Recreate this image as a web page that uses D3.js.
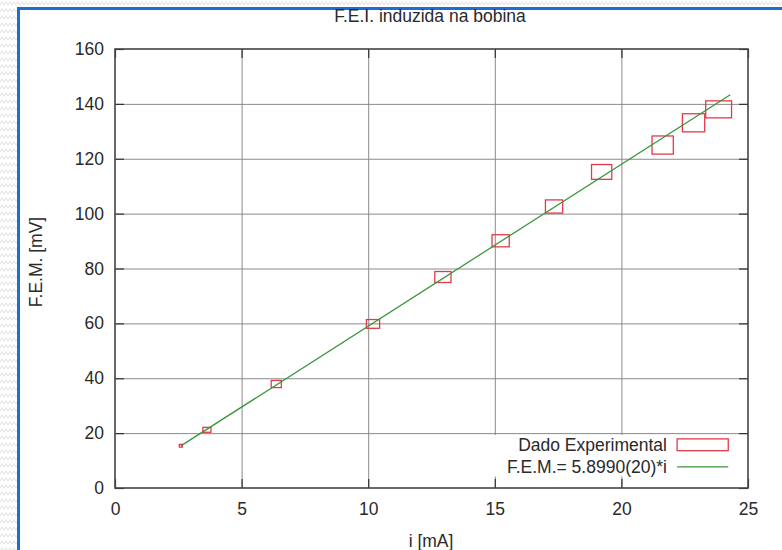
<!DOCTYPE html>
<html>
<head>
<meta charset="utf-8">
<script src="https://cdn.jsdelivr.net/npm/d3@7"></script>
<style>
  body { margin: 0; background: #fff; }
  text { font-family: "Liberation Sans", Arial, sans-serif; fill: #2a2a2a; }
</style>
</head>
<body>
<div id="chart"></div>
<script>
// measured points: current i [mA], emf [mV] and their uncertainties
const current    = [2.60, 3.63, 6.37, 10.19, 12.95, 15.23, 17.34, 19.22, 21.63, 22.85, 23.84];
const emf        = [15.4, 21.2, 37.9, 59.8, 76.9, 90.1, 102.6, 115.2, 125.0, 133.1, 138.0];
const currentErr = [0.06, 0.16, 0.20, 0.26, 0.32, 0.34, 0.34, 0.40, 0.42, 0.44, 0.51];
const emfErr     = [0.5, 0.9, 1.3, 1.6, 2.0, 2.2, 2.4, 2.7, 3.3, 3.3, 3.1];

// fitted line F.E.M. = slope * i
const slope = 5.899;
const fitRange = [2.6, 24.3];

const xTicks = [0, 5, 10, 15, 20, 25];
const yTicks = [0, 20, 40, 60, 80, 100, 120, 140, 160];

const title = "F.E.I. induzida na bobina";
const xLabel = "i [mA]";
const yLabel = "F.E.M. [mV]";
const legendLabels = ["Dado Experimental", "F.E.M.= 5.8990(20)*i"];

var W = 782, H = 550;
var margin = {top: 49, right: 34, bottom: 62, left: 115},
    width = W - margin.left - margin.right,
    height = H - margin.top - margin.bottom;

var fs = 17.5;
var red = "#e23a4a", green = "#3a953a";

var root = d3.select("#chart").append("svg")
    .attr("width", W).attr("height", H);

// zigzag background outside the frame
var pat = root.append("defs").append("pattern")
    .attr("id", "zig").attr("patternUnits", "userSpaceOnUse")
    .attr("width", 8).attr("height", 7);
pat.append("polyline")
    .attr("points", "0,5 2,2 4,5 6,2 8,5")
    .attr("fill", "none").attr("stroke", "#e6e6e6").attr("stroke-width", 1.2);

root.append("rect").attr("width", W).attr("height", H).attr("fill", "url(#zig)");
root.append("rect")
    .attr("x", 18.5).attr("y", 8.5).attr("width", W).attr("height", H)
    .attr("fill", "#fff").attr("stroke", "#1b6fd0").attr("stroke-width", 3);

var svg = root.append("g")
    .attr("transform", "translate(" + margin.left + "," + margin.top + ")");

var x = d3.scaleLinear().domain([0, 25]).range([0, width]);
var y = d3.scaleLinear().domain([0, 160]).range([height, 0]);

// grid
svg.append("g")
    .attr("transform", "translate(0," + height + ")")
    .call(d3.axisBottom(x).tickValues(xTicks.slice(1, -1)).tickSize(-height).tickFormat(""))
    .call(g => g.select(".domain").remove())
    .selectAll("line").attr("stroke", "#8a8a8a").attr("stroke-width", 1);
svg.append("g")
    .call(d3.axisLeft(y).tickValues(yTicks.slice(1, -1)).tickSize(-width).tickFormat(""))
    .call(g => g.select(".domain").remove())
    .selectAll("line").attr("stroke", "#8a8a8a").attr("stroke-width", 1);

// data boxes (error rectangles)
var pts = current.map(function(d, i) {
  return {i: d, v: emf[i], di: currentErr[i], dv: emfErr[i]};
});
svg.selectAll(".box").data(pts).enter().append("rect")
    .attr("class", "box")
    .attr("x", d => x(d.i - d.di))
    .attr("y", d => y(d.v + d.dv))
    .attr("width", d => x(d.i + d.di) - x(d.i - d.di))
    .attr("height", d => y(d.v - d.dv) - y(d.v + d.dv))
    .attr("fill", "none")
    .attr("stroke", red)
    .attr("stroke-width", 1.3);

// fit line
svg.append("path")
    .datum(fitRange)
    .attr("fill", "none")
    .attr("stroke", green)
    .attr("stroke-width", 1.3)
    .attr("d", d3.line().x(d => x(d)).y(d => y(slope * d)));

// legend (opaque)
svg.append("rect")
    .attr("x", x(14.95)).attr("y", y(19.3))
    .attr("width", x(25) - x(14.95)).attr("height", y(4.2) - y(19.3))
    .attr("fill", "#fff");
var lx = x(21.8);
svg.append("text").attr("x", lx).attr("y", y(13.6))
    .attr("text-anchor", "end").style("font-size", fs + "px").text(legendLabels[0]);
svg.append("rect")
    .attr("x", x(22.2)).attr("y", y(17.9))
    .attr("width", x(24.22) - x(22.2)).attr("height", y(13.6) - y(17.9))
    .attr("fill", "none").attr("stroke", red).attr("stroke-width", 1.3);
svg.append("text").attr("x", lx).attr("y", y(5.6))
    .attr("text-anchor", "end").style("font-size", fs + "px").text(legendLabels[1]);
svg.append("line")
    .attr("x1", x(22.2)).attr("x2", x(24.22))
    .attr("y1", y(7.7)).attr("y2", y(7.7))
    .attr("stroke", green).attr("stroke-width", 1.3);

// inward ticks on all four sides
function ticks(g) {
  g.select(".domain").remove();
  g.selectAll("line").attr("stroke", "#333").attr("stroke-width", 1.2);
}
svg.append("g").attr("transform", "translate(0," + height + ")")
    .call(d3.axisBottom(x).tickValues(xTicks).tickSize(-9).tickFormat("")).call(ticks);
svg.append("g")
    .call(d3.axisTop(x).tickValues(xTicks).tickSize(-9).tickFormat("")).call(ticks);
svg.append("g")
    .call(d3.axisLeft(y).tickValues(yTicks).tickSize(-9).tickFormat("")).call(ticks);
svg.append("g").attr("transform", "translate(" + width + ",0)")
    .call(d3.axisRight(y).tickValues(yTicks).tickSize(-9).tickFormat("")).call(ticks);

// border
svg.append("rect")
    .attr("width", width).attr("height", height)
    .attr("fill", "none").attr("stroke", "#444").attr("stroke-width", 1.6);

// tick labels
svg.append("g").attr("transform", "translate(0," + height + ")")
    .call(d3.axisBottom(x).tickValues(xTicks).tickSize(0).tickPadding(15))
    .call(g => g.select(".domain").remove())
    .selectAll("text").style("font-size", fs + "px").attr("fill", "#2a2a2a");
svg.append("g")
    .call(d3.axisLeft(y).tickValues(yTicks).tickSize(0).tickPadding(11))
    .call(g => g.select(".domain").remove())
    .selectAll("text").style("font-size", fs + "px").attr("fill", "#2a2a2a");

// titles
root.append("text").attr("x", 430).attr("y", 22)
    .attr("text-anchor", "middle").style("font-size", fs + "px").text(title);
root.append("text").attr("x", 431).attr("y", 547)
    .attr("text-anchor", "middle").style("font-size", fs + "px").text(xLabel);
root.append("text")
    .attr("transform", "translate(42,262) rotate(-90)")
    .attr("text-anchor", "middle").style("font-size", fs + "px").text(yLabel);
</script>
</body>
</html>
